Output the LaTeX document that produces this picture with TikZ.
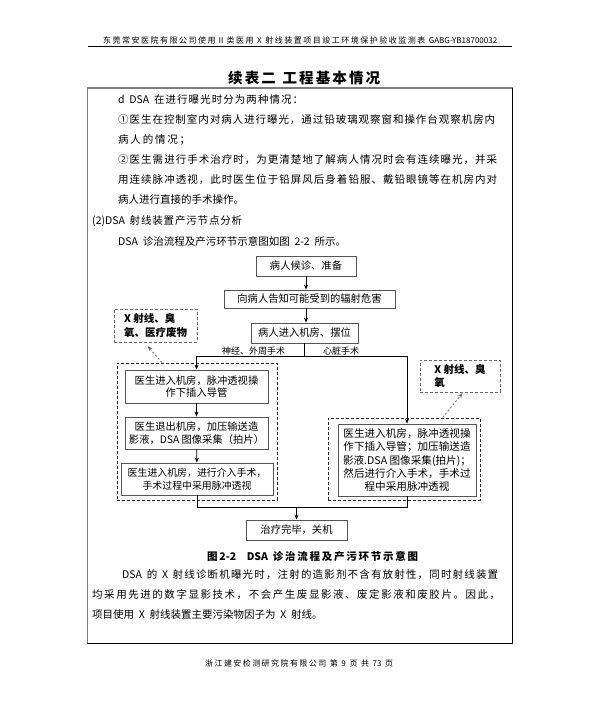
\documentclass[tikz,border=0pt]{standalone}
\usepackage{fontspec}
\setmainfont{Noto Sans CJK SC}
\usetikzlibrary{arrows.meta}
\definecolor{boxgray}{RGB}{85,85,85}
\definecolor{framegray}{RGB}{125,125,125}
\definecolor{polgray}{RGB}{105,105,105}
% CJK characters get a class of their own, so a line can be spread evenly
\newcount\cjkchar
\cjkchar="4E00
\loop
  \XeTeXcharclass\cjkchar=7
  \ifnum\cjkchar<"9FFF \advance\cjkchar by 1
\repeat
\XeTeXcharclass"FF0C=7 \XeTeXcharclass"3001=7 \XeTeXcharclass"3002=7
\XeTeXcharclass"FF1B=7 \XeTeXcharclass"FF1A=7 \XeTeXcharclass"FF08=7
\XeTeXcharclass"FF09=7 \XeTeXcharclass"2460=7 \XeTeXcharclass"2461=7
\XeTeXcharclass"2161=7
\XeTeXinterchartoks 7 7 = {\hskip 0pt plus 1fil}
\XeTeXinterchartoks 0 7 = {\hskip 0pt plus 1fil}
\XeTeXinterchartoks 7 0 = {\hskip 0pt plus 1fil}
% spread one line of text over a given width
\newcommand{\spreadline}[2]{\makebox[#1pt][s]{\XeTeXinterchartokenstate=1 \spaceskip=0.45em #2}}

\begin{document}
\begin{tikzpicture}[x=1pt, y=-1pt,
    txt/.style={anchor=west, inner sep=0pt, font=\fontsize{10.5}{12}\selectfont},
    flow/.style={rectangle, draw=boxgray, line width=0.8pt, align=center,
                 inner sep=1pt, font=\fontsize{10.3}{12.8}\selectfont},
    grp/.style={rectangle, draw=black!85, line width=1pt, dash pattern=on 3pt off 2pt},
    pol/.style={rectangle, draw=polgray, line width=0.8pt, dash pattern=on 3pt off 2pt,
                align=left, inner sep=2pt, font=\bfseries\fontsize{10.5}{13.3}\selectfont},
    brlab/.style={inner sep=0pt, font=\fontsize{9}{10}\selectfont},
    link/.style={line width=0.8pt},
    arr/.style={-{Stealth[length=5pt,width=4pt]}, line width=0.8pt},
    dotarr/.style={-{Stealth[length=5pt,width=4pt]}, draw=polgray, line width=0.8pt,
                   dash pattern=on 2pt off 2pt}
  ]
    \useasboundingbox (0,0) rectangle (600,708);

    % Page head
    \node[txt, font=\fontsize{8}{9}\selectfont] (head) at (103,40.5)
      {\spreadline{394}{东莞常安医院有限公司使用Ⅱ类医用 X 射线装置项目竣工环境保护验收监测表 GABG-YB18700032}};
    \draw[line width=0.8pt] (88,46) -- (512,46);
    \node[txt, font=\bfseries\fontsize{14.5}{16}\selectfont] (title) at (228,77.5)
      {\spreadline{152}{续表二 工程基本情况}};

    % Frame
    \draw[framegray, line width=2.7pt] (87,88) -- (513,88);
    \draw[framegray, line width=0.8pt] (87.5,88) -- (87.5,644);
    \draw[black, line width=1.6pt] (512.5,88) -- (512.5,643.5) -- (87,643.5);

    % Text above the figure
    \node[txt] (t1) at (118,100) {\spreadline{185}{d DSA 在进行曝光时分为两种情况：}};
    \node[txt] (t2) at (118,120) {\spreadline{377}{①医生在控制室内对病人进行曝光，通过铅玻璃观察窗和操作台观察机房内}};
    \node[txt] (t3) at (118,140) {\spreadline{72}{病人的情况；}};
    \node[txt] (t4) at (118,160) {\spreadline{379}{②医生需进行手术治疗时，为更清楚地了解病人情况时会有连续曝光，并采}};
    \node[txt] (t5) at (118,180) {\spreadline{379}{用连续脉冲透视，此时医生位于铅屏风后身着铅服、戴铅眼镜等在机房内对}};
    \node[txt] (t6) at (118,200) {\spreadline{115}{病人进行直接的手术操作。}};
    \node[txt] (t7) at (92,221) {\spreadline{150}{(2)DSA 射线装置产污节点分析}};
    \node[txt] (t8) at (118,241) {\spreadline{195}{DSA 诊治流程及产污环节示意图如图 2-2 所示。}};

    % Flow chart
    \node[flow, minimum width=100pt, minimum height=20pt] (wait) at (306,266) {病人候诊、准备};
    \node[flow, minimum width=171pt, minimum height=18pt] (inform) at (309.5,299) {向病人告知可能受到的辐射危害};
    \node[flow, minimum width=107pt, minimum height=20pt] (enter) at (304.5,333) {病人进入机房、摆位};

    \node[grp, minimum width=160pt, minimum height=137pt] (lgrp) at (197,431.5) {};
    \node[flow, minimum width=143pt, minimum height=33pt] (lb1) at (196.5,386.5)
      {医生进入机房，脉冲透视操\\作下插入导管};
    \node[flow, minimum width=143pt, minimum height=32pt] (lb2) at (196.5,433)
      {医生退出机房，加压输送造\\影液，DSA 图像采集（拍片）};
    \node[flow, minimum width=152pt, minimum height=32pt, font=\fontsize{9.9}{12.8}\selectfont] (lb3) at (197,479)
      {医生进入机房，进行介入手术，\\手术过程中采用脉冲透视};

    \node[grp, minimum width=152pt, minimum height=82pt] (rgrp) at (404,459) {};
    \node[flow, minimum width=138pt, minimum height=72pt, font=\fontsize{10.6}{13.3}\selectfont] (rb) at (407,460)
      {医生进入机房，脉冲透视操\\作下插入导管；加压输送造\\影液.DSA 图像采集(拍片)；\\然后进行介入手术，手术过\\程中采用脉冲透视};

    \node[flow, minimum width=101pt, minimum height=20pt] (finish) at (296.5,530) {治疗完毕，关机};

    \node[pol, minimum width=83pt, minimum height=33pt] (lpol) at (155.5,325.5) {X 射线、臭\\氧、医疗废物};
    \node[pol, minimum width=80pt, minimum height=32pt] (rpol) at (460,376) {X 射线、臭\\氧};

    \node[brlab] (lneuro) at (253.5,351) {神经、外周手术};
    \node[brlab] (lheart) at (341,351) {心脏手术};

    \coordinate (split) at (304.5,356);
    \coordinate (merge) at (296.5,507);

    % Arrows
    \draw[arr] (wait.south) -- (wait.south |- inform.north);
    \draw[arr] (inform.south -| wait.south) -- (enter.north -| wait.south);
    \draw[link] (enter.south) -- (split);
    \draw[arr] (split) -| (lb1);
    \draw[arr] (split) -| (rb);
    \draw[arr] (lb1) -- (lb2);
    \draw[arr] (lb2) -- (lb3);
    \draw[link] (lb3) |- (merge);
    \draw[link] (rb) |- (merge);
    \draw[arr] (merge) -- (finish);

    % Pollutant markers
    \draw[dotarr, shorten >=5pt] (lgrp.117) -- (lpol.237);
    \draw[dotarr, shorten >=1pt] (rgrp.47) -- (rpol.281);

    % Caption and text below the figure
    \node[txt, font=\bfseries\fontsize{10.5}{12}\selectfont] (cap) at (207,557)
      {\spreadline{211}{图2-2\quad DSA 诊治流程及产污环节示意图}};
    \node[txt] (b1) at (122,575) {\spreadline{376}{DSA 的 X 射线诊断机曝光时，注射的造影剂不含有放射性，同时射线装置}};
    \node[txt] (b2) at (92,595) {\spreadline{408}{均采用先进的数字显影技术，不会产生废显影液、废定影液和废胶片。因此，}};
    \node[txt] (b3) at (92,615) {\spreadline{206}{项目使用 X 射线装置主要污染物因子为 X 射线。}};

    % Page foot
    \node[txt, font=\fontsize{8}{9}\selectfont] (foot) at (205,663)
      {\spreadline{188}{浙江建安检测研究院有限公司 第 9 页 共 73 页}};
  \end{tikzpicture}
\end{document}
